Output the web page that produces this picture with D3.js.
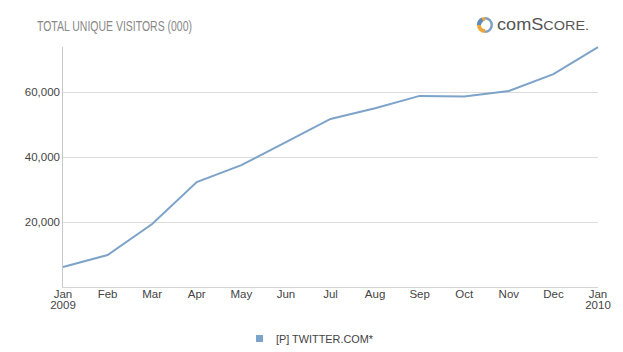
<!DOCTYPE html>
<html>
<head>
<meta charset="utf-8">
<script src="https://cdn.jsdelivr.net/npm/d3@7"></script>
<style>
  body { margin: 0; background: #fff; }
  text { font-family: "Liberation Sans", Arial, sans-serif; }
</style>
</head>
<body>
<svg id="chart" width="623" height="352"></svg>
<script>
// data (thousands of visitors)
var months = ["Jan","Feb","Mar","Apr","May","Jun","Jul","Aug","Sep","Oct","Nov","Dec","Jan"]
var years = ["2009","","","","","","","","","","","","2010"]
var visitors = [6150, 9850, 19400, 32300, 37500, 44600, 51700, 55000, 58800, 58600, 60300, 65500, 73800]
var yTicks = [20000, 40000, 60000]
var seriesName = "[P] TWITTER.COM*"

var svg = d3.select("#chart")
var plotLeft = 62, plotRight = 598, plotTop = 47, plotBottom = 287

var x = d3.scalePoint().domain(d3.range(months.length)).range([plotLeft + 1, plotRight])
var y = d3.scaleLinear().domain([0, 73850]).range([plotBottom, plotTop])

// gridlines
svg.append("g").selectAll("line")
    .data(yTicks).enter().append("line")
    .attr("x1", plotLeft).attr("x2", plotRight)
    .attr("y1", d => Math.round(y(d)) + 0.5).attr("y2", d => Math.round(y(d)) + 0.5)
    .attr("stroke", "#dcdcdc")

// axis lines
svg.append("line").attr("x1", plotLeft + 0.5).attr("x2", plotLeft + 0.5).attr("y1", plotTop).attr("y2", plotBottom)
    .attr("stroke", "#c8c8c8")
svg.append("line").attr("x1", plotLeft).attr("x2", plotRight).attr("y1", plotBottom + 0.5).attr("y2", plotBottom + 0.5)
    .attr("stroke", "#d4d4d4")

// y tick labels
svg.append("g").selectAll("text")
    .data(yTicks).enter().append("text")
    .attr("x", plotLeft - 2).attr("y", d => y(d) + 4)
    .attr("text-anchor", "end")
    .attr("font-size", 11.5).attr("fill", "#444")
    .text(d => d3.format(",")(d))

// x tick labels
var xl = svg.append("g")
xl.selectAll(".m").data(months).enter().append("text")
    .attr("class", "m")
    .attr("x", (d, i) => x(i)).attr("y", plotBottom + 11)
    .attr("text-anchor", "middle").attr("font-size", 11.5).attr("fill", "#444")
    .text(d => d)
xl.selectAll(".yr").data(years).enter().append("text")
    .attr("class", "yr")
    .attr("x", (d, i) => x(i)).attr("y", plotBottom + 22)
    .attr("text-anchor", "middle").attr("font-size", 11.5).attr("fill", "#444")
    .text(d => d)

// the line
var line = d3.line().x((d, i) => x(i)).y(d => y(d))
svg.append("path").datum(visitors)
    .attr("d", line)
    .attr("fill", "none")
    .attr("stroke", "#7da3c9")
    .attr("stroke-width", 2)

// title
svg.append("text").attr("x", 37).attr("y", 31)
    .attr("font-size", 14).attr("fill", "#888")
    .attr("textLength", 155).attr("lengthAdjust", "spacingAndGlyphs")
    .text("TOTAL UNIQUE VISITORS (000)")

// comScore logo
var logo = svg.append("g").attr("transform", "translate(485,25)")
logo.append("path").attr("d", d3.arc()({innerRadius: 4, outerRadius: 8, startAngle: Math.PI, endAngle: 2 * Math.PI}))
    .attr("fill", "#eea53a")
logo.append("path").attr("d", d3.arc()({innerRadius: 4, outerRadius: 8, startAngle: 1.5 * Math.PI, endAngle: 1.85 * Math.PI}))
    .attr("fill", "#5a8cc0")
logo.append("path").attr("d", d3.arc()({innerRadius: 5.5, outerRadius: 8, startAngle: 0, endAngle: Math.PI}))
    .attr("fill", "#7f9fc4")
var lt = logo.append("text").attr("x", 12).attr("y", 5)
    .attr("font-size", 17).attr("fill", "#555")
    .attr("font-family", "'DejaVu Sans', sans-serif")
    .attr("textLength", 92).attr("lengthAdjust", "spacingAndGlyphs")
lt.append("tspan").text("com")
lt.append("tspan").text("S")
lt.append("tspan").attr("font-size", 13.5).text("CORE.")

// legend
svg.append("rect").attr("x", 256).attr("y", 335).attr("width", 7).attr("height", 7)
    .attr("fill", "#7da3c9")
svg.append("text").attr("x", 276).attr("y", 343)
    .attr("font-size", 11.5).attr("fill", "#444")
    .attr("textLength", 97).attr("lengthAdjust", "spacingAndGlyphs")
    .text(seriesName)
</script>
</body>
</html>
